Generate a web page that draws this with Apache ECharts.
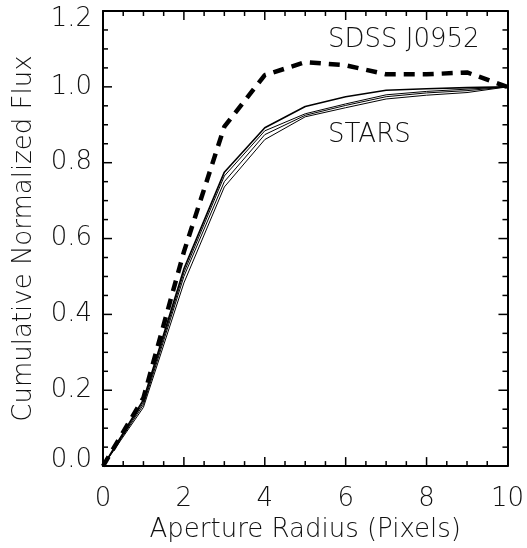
<!DOCTYPE html>
<html>
<head>
<meta charset="utf-8">
<script src="https://cdn.jsdelivr.net/npm/echarts@6/dist/echarts.min.js"></script>
<style>
  html, body { margin: 0; padding: 0; background: #fff; }
  #chart { width: 527px; height: 548px; }
</style>
</head>
<body>
<div id="chart"></div>
<script>
const radius = [0, 1, 2, 3, 4, 5, 6, 7, 8, 9, 10];
const sdss = [0, 0.18, 0.565, 0.895, 1.031, 1.065, 1.057, 1.033, 1.033, 1.038, 1.0];
const star1 = [0, 0.175, 0.52, 0.775, 0.892, 0.948, 0.974, 0.991, 0.995, 0.998, 1.0];
const star2 = [0, 0.168, 0.51, 0.765, 0.884, 0.929, 0.955, 0.979, 0.988, 0.994, 1.0];
const star3 = [0, 0.162, 0.5, 0.75, 0.874, 0.925, 0.951, 0.974, 0.984, 0.99, 1.0];
const star4 = [0, 0.155, 0.483, 0.736, 0.861, 0.921, 0.945, 0.968, 0.978, 0.985, 1.0];

// frame tick positions (drawn on all four sides, pointing inward)
const xMajor = [2, 4, 6, 8];
const xMinor = [0.5, 1, 1.5, 2.5, 3, 3.5, 4.5, 5, 5.5, 6.5, 7, 7.5, 8.5, 9, 9.5];
const yMajor = [0.2, 0.4, 0.6, 0.8, 1.0];
const yMinor = [0.05, 0.1, 0.15, 0.25, 0.3, 0.35, 0.45, 0.5, 0.55, 0.65, 0.7, 0.75,
  0.85, 0.9, 0.95, 1.05, 1.1, 1.15];

const font = "DejaVu Sans";
const fsize = 26;
const pairs = (ys) => radius.map((x, i) => [x, ys[i]]);
const txt = () => ({ fontFamily: font, fontSize: fsize, fontWeight: 200, color: "#111" });

// top and bottom labels of the y axis sit inside the frame, like the original
function yLabel(v) {
  if (typeof v !== "number") return String(v);
  const s = v.toFixed(1);
  if (v >= 1.19) return "{top|" + s + "}";
  if (v <= 0.01) return "{bot|" + s + "}";
  return s;
}

const chart = echarts.init(document.getElementById("chart"));

function frameAxis(kind, pos, extra) {
  const a = {
    type: "value",
    position: pos,
    min: 0,
    max: kind === "x" ? 10 : 1.2,
    interval: kind === "x" ? 2 : 0.2,
    axisLine: { show: true, onZero: false, lineStyle: { color: "#000", width: 2 } },
    axisTick: { show: false },
    minorTick: { show: false },
    splitLine: { show: false },
    axisLabel: { show: false },
  };
  return Object.assign(a, extra || {});
}

function starLine(ys, w) {
  return {
    type: "line",
    data: pairs(ys),
    symbol: "none",
    lineStyle: { color: "#000", width: w },
  };
}

// tick items: [side, value, length]; side 0 = x ticks, 1 = y ticks
const tickData = []
  .concat(xMajor.map((v) => [0, v, 9]))
  .concat(xMinor.map((v) => [0, v, 5]))
  .concat(yMajor.map((v) => [1, v, 9]))
  .concat(yMinor.map((v) => [1, v, 5]));

function renderTick(params, api) {
  const side = api.value(0);
  const v = api.value(1);
  const len = api.value(2);
  const st = { stroke: "#000", lineWidth: 1.5 };
  let a, b;
  if (side === 0) {
    a = api.coord([v, 0]);
    b = api.coord([v, 1.2]);
    return {
      type: "group",
      children: [
        { type: "line", shape: { x1: a[0], y1: a[1], x2: a[0], y2: a[1] - len }, style: st },
        { type: "line", shape: { x1: b[0], y1: b[1], x2: b[0], y2: b[1] + len }, style: st },
      ],
    };
  }
  a = api.coord([0, v]);
  b = api.coord([10, v]);
  return {
    type: "group",
    children: [
      { type: "line", shape: { x1: a[0], y1: a[1], x2: a[0] + len, y2: a[1] }, style: st },
      { type: "line", shape: { x1: b[0], y1: b[1], x2: b[0] - len, y2: b[1] }, style: st },
    ],
  };
}

chart.setOption({
  animation: false,
  grid: { left: 103, right: 17, top: 11, bottom: 76 },
  xAxis: [
    frameAxis("x", "bottom", {
      name: "Aperture Radius (Pixels)", nameLocation: "middle", nameGap: 49,
      nameTextStyle: txt(),
      axisLabel: Object.assign({ show: true, margin: 20 }, txt()),
    }),
    frameAxis("x", "top"),
  ],
  yAxis: [
    frameAxis("y", "left", {
      name: "Cumulative Normalized Flux", nameLocation: "middle", nameGap: 66,
      nameTextStyle: txt(),
      axisLabel: Object.assign({
        show: true, margin: 11, formatter: yLabel,
        rich: {
          top: Object.assign({ padding: [17, 0, 0, 0] }, txt()),
          bot: Object.assign({ padding: [0, 0, 12, 0] }, txt()),
        },
      }, txt()),
    }),
    frameAxis("y", "right"),
  ],
  series: [
    starLine(star1, 1.6),
    starLine(star2, 1),
    starLine(star3, 1),
    starLine(star4, 1),
    {
      type: "line",
      data: pairs(sdss),
      symbol: "none",
      lineStyle: { color: "#000", width: 4.5, type: [11, 8] },
    },
    {
      type: "custom",
      data: tickData,
      encode: { x: 1, y: 1 },
      renderItem: renderTick,
      silent: true,
      clip: false,
      z: 5,
    },
  ],
  graphic: [
    {
      type: "text", left: 328, top: 27,
      style: { text: "SDSS J0952", fontFamily: font, fontSize: fsize, fontWeight: 200, fill: "#111" },
    },
    {
      type: "text", left: 328, top: 122,
      style: { text: "STARS", fontFamily: font, fontSize: fsize, fontWeight: 200, fill: "#111" },
    },
  ],
});
</script>
</body>
</html>
